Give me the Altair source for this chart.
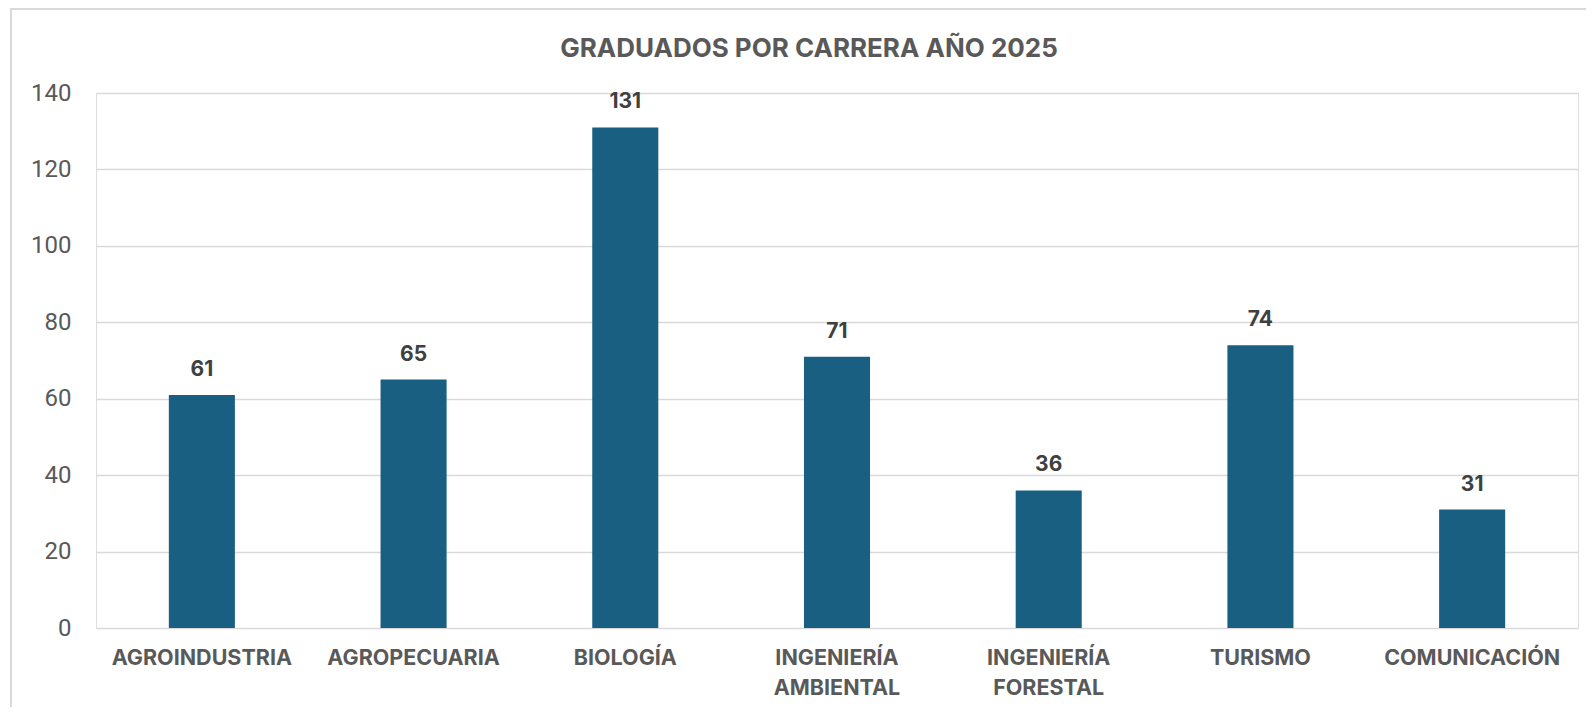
import altair as alt
import pandas as pd

categories = ["AGROINDUSTRIA", "AGROPECUARIA", "BIOLOGÍA", "INGENIERÍA AMBIENTAL",
              "INGENIERÍA FORESTAL", "TURISMO", "COMUNICACIÓN"]
graduados = [61, 65, 131, 71, 36, 74, 31]
y_ticks = [0, 20, 40, 60, 80, 100, 120, 140]
title_text = ["GRADUADOS POR CARRERA AÑO 2025"]

df = pd.DataFrame({"carrera": categories, "graduados": graduados})

FONT = "Roboto"
BFONT = "Inter"
W, H = 1482, 535

x = alt.X("carrera:N", sort=categories,
          scale=alt.Scale(paddingInner=0.688, paddingOuter=0.344),
          axis=alt.Axis(title=None, labelAngle=0, labelExpr="split(datum.label, ' ')",
                        labelFont=BFONT, labelFontSize=21.5, labelFontWeight="bold",
                        labelColor="#595959", labelLineHeight=30, labelBaseline="top",
                        labelPadding=19, ticks=False, domain=False, grid=False,
                        labelLimit=400))
y = alt.Y("graduados:Q",
          scale=alt.Scale(domain=[0, 140], nice=False),
          axis=alt.Axis(title=None, values=y_ticks, labelFont=FONT, labelFontSize=24,
                        labelColor="#595959", labelPadding=25, ticks=False, domain=False,
                        grid=True, gridColor="#D9D9D9", gridWidth=1.5))

base = alt.Chart(df)
bars = base.mark_bar(color="#185F82").encode(x=x, y=y)
labels = base.mark_text(font=BFONT, fontSize=21, fontWeight="bold", color="#404040",
                        baseline="alphabetic", dy=-19).encode(
    x=alt.X("carrera:N", sort=categories), y="graduados:Q", text="graduados:Q")

title_df = pd.DataFrame({"t": title_text})
title = alt.Chart(title_df).mark_text(font=BFONT, fontSize=26, fontWeight="bold",
                                      color="#595959", align="center",
                                      baseline="alphabetic").encode(
    x=alt.value(713), y=alt.value(-36), text="t:N")

frame_df = pd.DataFrame({"k": [0]})
left_border = alt.Chart(frame_df).mark_rule(color="#D9D9D9", strokeWidth=2).encode(
    x=alt.value(-85), y=alt.value(-85), y2=alt.value(H + 79))
top_border = alt.Chart(frame_df).mark_rule(color="#D9D9D9", strokeWidth=2).encode(
    x=alt.value(-85), x2=alt.value(W + 8), y=alt.value(-84))

chart = alt.layer(bars, labels, title, left_border, top_border).properties(
    width=W, height=H,
    autosize=alt.AutoSizeParams(type="none"),
    padding={"left": 88, "top": 85, "right": 8, "bottom": 79},
).configure_view(stroke=None).configure(background="white")

chart.save("out.html", embed_options={"renderer": "svg", "actions": False})
